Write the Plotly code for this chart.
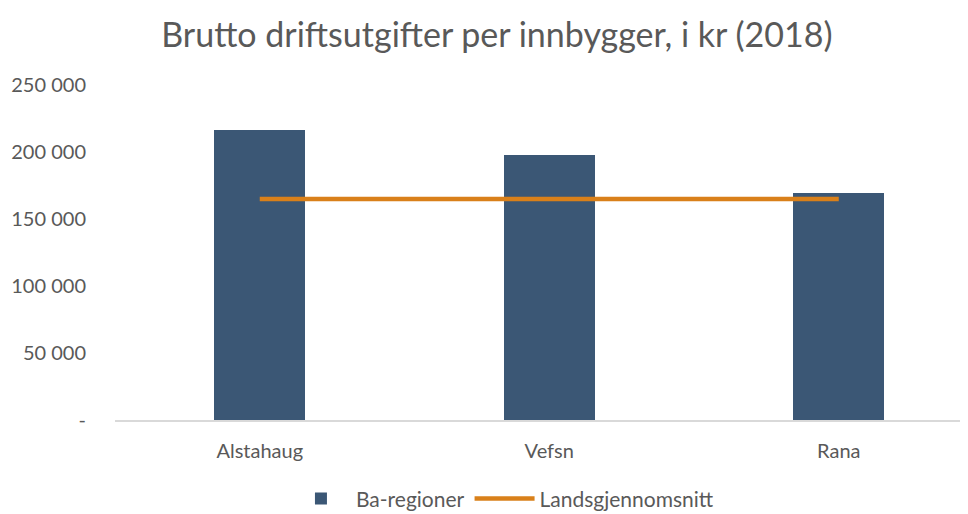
import plotly.graph_objects as go

categories = ["Alstahaug", "Vefsn", "Rana"]
ba_regioner = [216400, 197600, 169300]
landsgjennomsnitt = [165000, 165000, 165000]
tick_vals = [0, 50000, 100000, 150000, 200000, 250000]
tick_text = ["-", "50 000", "100 000", "150 000", "200 000", "250 000"]

font_family = "Lato, Open Sans, sans-serif"
grey = "#595959"

fig = go.Figure()
fig.add_trace(go.Bar(
    x=categories, y=ba_regioner, name="Ba-regioner",
    marker=dict(color="#3B5775", line=dict(width=0)),
    width=0.314,
))
fig.add_trace(go.Scatter(
    x=categories, y=landsgjennomsnitt, name="Landsgjennomsnitt",
    mode="lines", line=dict(color="#D9801A", width=4.5),
))

fig.update_layout(
    width=968, height=514,
    paper_bgcolor="white", plot_bgcolor="white",
    margin=dict(l=107, r=0, t=77, b=102),
    title=dict(text="Brutto driftsutgifter per innbygger, i kr (2018)",
               x=0.505, xanchor="center", y=0.948, yanchor="middle",
               font=dict(family=font_family, size=34, color=grey)),
    font=dict(family=font_family, color=grey, size=20),
    showlegend=True,
    legend=dict(orientation="h", x=0.45, xanchor="center", y=-0.235, yanchor="middle",
                font=dict(size=21, color=grey), traceorder="normal", itemwidth=60),
    xaxis=dict(range=[-0.5, 2.474], showgrid=False, showline=True,
               linecolor="#D9D9D9", linewidth=1.5, ticks="", ticklabelstandoff=12,
               tickfont=dict(size=20, color=grey)),
    yaxis=dict(range=[0, 250000], tickvals=tick_vals, ticktext=tick_text,
               showgrid=False, zeroline=False, showline=False, ticks="",
               ticklabelstandoff=28, tickfont=dict(size=20, color=grey)),
    bargap=0,
)

fig.write_html("out.html")
